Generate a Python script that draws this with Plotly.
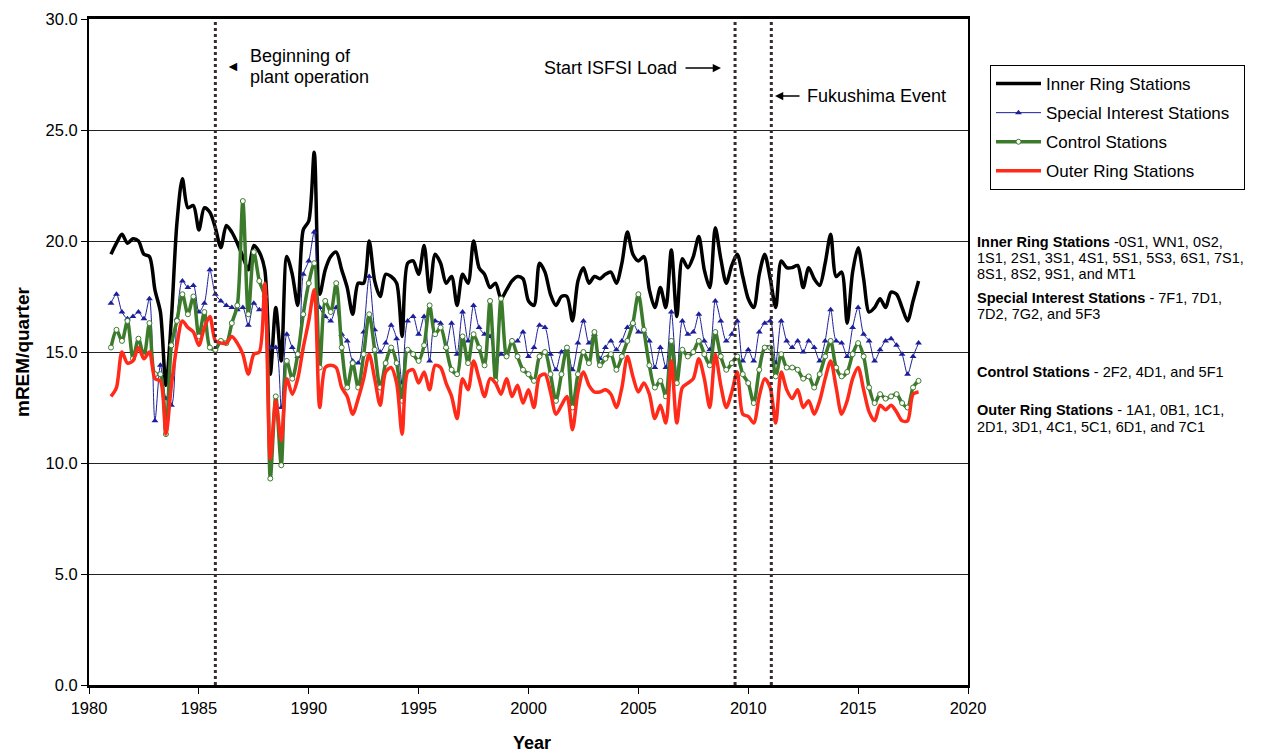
import plotly.graph_objects as go

# quarterly readings, 1981 Q1 .. 2017 Q4
quarter = [y + q / 4 for y in range(1981, 2018) for q in range(4)]

inner_ring = [
    19.4, 19.9, 20.3, 19.9, 20.1, 20.0, 19.4, 19.3, 17.8, 16.8, 13.5, 16.5, 20.8, 22.8, 21.5, 21.6, 20.5, 21.5, 21.3, 20.6,
    19.7, 20.7, 20.4, 19.9, 19.3, 18.7, 19.8, 19.5, 18.7, 14.0, 17.0, 14.6, 19.3, 18.5, 17.1, 20.5, 20.9, 24.0, 17.6, 18.7,
    19.3, 19.5, 18.7, 17.9, 16.7, 18.1, 18.1, 20.0, 18.2, 17.5, 18.5, 18.4, 18.1, 15.7, 19.0, 19.1, 18.5, 19.8, 17.7, 19.4,
    19.0, 18.1, 18.4, 17.1, 18.5, 18.1, 20.0, 18.8, 18.5, 17.9, 18.1, 17.4, 17.8, 18.2, 18.4, 18.3, 17.3, 17.1, 19.0, 18.6,
    17.6, 17.1, 17.5, 17.5, 16.4, 18.2, 18.8, 18.1, 18.4, 18.3, 18.5, 18.6, 18.1, 19.0, 20.4, 19.4, 19.1, 19.3, 17.8, 17.0,
    17.9, 17.0, 19.6, 16.6, 19.2, 18.8, 19.3, 20.2, 18.7, 17.9, 20.6, 19.2, 18.1, 18.9, 19.4, 18.4, 17.4, 17.0, 18.5, 19.4,
    18.3, 17.0, 19.1, 18.8, 18.8, 18.9, 17.9, 18.8, 18.3, 18.0, 19.0, 20.3, 18.4, 18.6, 16.3, 18.6, 19.7, 18.3, 16.8, 17.0,
    17.4, 17.0, 17.7, 17.6, 17.0, 16.4, 17.3, 18.2,
]
special_interest = [
    17.2, 17.6, 16.8, 16.5, 16.6, 16.8, 16.5, 17.4, 11.9, 14.4, 12.9, 12.6, 16.5, 18.2, 17.9, 18.0, 16.8, 17.2, 18.7, 17.6,
    17.3, 17.1, 17.0, 16.9, 17.0, 16.2, 17.2, 16.9, 17.0, 15.2, 15.2, 12.5, 15.8, 15.2, 14.8, 18.5, 19.1, 20.4, 17.0, 16.6,
    16.4, 17.0, 15.8, 15.5, 14.6, 14.5, 15.9, 18.4, 16.0, 15.0, 15.4, 16.2, 15.6, 13.6, 16.4, 16.6, 15.8, 16.6, 14.6, 16.4,
    16.3, 15.2, 16.3, 14.9, 16.8, 15.5, 17.1, 16.1, 15.8, 15.7, 14.6, 14.9, 14.9, 15.4, 15.5, 15.9, 14.8, 15.2, 16.2, 16.1,
    14.9, 14.2, 15.0, 15.1, 14.2, 15.4, 16.4, 15.4, 15.8, 14.7, 15.2, 15.5, 15.1, 15.5, 16.1, 16.3, 15.9, 15.9, 15.5, 14.3,
    15.2, 14.3, 16.8, 14.0, 16.4, 15.8, 15.9, 16.7, 15.5, 15.1, 17.3, 16.4, 15.5, 15.8, 16.4, 14.6, 15.1, 14.6, 15.9, 16.3,
    16.4, 14.5, 16.4, 15.5, 15.2, 15.5, 15.0, 15.5, 15.2, 14.6, 15.5, 16.9, 15.5, 15.4, 14.8, 16.1, 17.0, 15.8, 15.5, 14.6,
    15.1, 15.5, 15.6, 15.3, 14.9, 14.0, 14.8, 15.4,
]
control = [
    15.2, 16.0, 15.5, 16.4, 14.7, 15.6, 14.8, 16.3, 14.0, 14.0, 11.3, 15.3, 16.4, 17.6, 16.7, 17.5, 15.7, 16.8, 15.2, 15.1,
    15.5, 15.4, 16.3, 17.1, 21.8, 16.7, 19.5, 18.2, 17.5, 9.3, 13.0, 9.9, 14.6, 13.8, 14.9, 16.7, 18.1, 19.0, 14.3, 17.3,
    16.8, 18.1, 15.2, 13.4, 14.5, 13.4, 14.9, 16.7, 15.1, 13.4, 14.5, 15.2, 14.5, 12.8, 15.1, 14.9, 14.6, 15.3, 17.1, 15.8,
    16.1, 15.2, 14.2, 14.0, 15.7, 14.5, 15.8, 15.2, 14.4, 17.3, 13.7, 17.4, 14.8, 15.5, 14.8, 14.2, 14.0, 13.7, 14.8, 15.0,
    14.0, 12.8, 14.0, 15.2, 12.5, 14.0, 15.0, 14.5, 15.9, 14.4, 14.7, 14.9, 14.2, 14.8, 15.5, 16.3, 17.6, 16.0, 14.4, 13.4,
    13.7, 13.0, 15.5, 13.6, 15.1, 14.8, 15.0, 15.5, 14.9, 14.4, 15.9, 14.8, 14.2, 14.5, 14.8, 14.0, 13.6, 12.7, 14.2, 15.2,
    15.2, 13.9, 14.9, 14.3, 14.3, 14.2, 13.8, 13.9, 13.4, 14.0, 14.8, 15.5, 14.3, 13.9, 14.1, 14.9, 15.4, 14.8, 13.4, 12.7,
    13.1, 12.9, 13.0, 13.1, 12.7, 12.5, 13.4, 13.7,
]
outer_ring = [
    13.0, 13.4, 15.0, 14.5, 14.6, 15.2, 14.7, 15.0, 13.8, 13.7, 11.3, 13.5, 15.3, 16.4, 16.1, 15.9, 15.3, 16.1, 16.6, 15.5,
    15.4, 15.4, 15.7, 15.4, 14.9, 14.0, 14.9, 15.0, 18.1, 10.2, 12.8, 11.0, 13.8, 13.1, 13.8, 15.2, 16.4, 17.8, 12.5, 14.3,
    14.4, 14.3, 13.4, 13.0, 12.2, 12.9, 13.8, 14.9, 13.8, 12.6, 14.1, 14.3, 13.6, 11.3, 14.1, 14.2, 13.6, 14.1, 13.3, 14.4,
    14.3, 13.6, 13.0, 12.0, 13.8, 13.3, 14.6, 13.8, 13.0, 13.8, 13.6, 13.1, 13.8, 13.0, 13.5, 12.7, 13.3, 12.5, 13.9, 14.0,
    13.2, 12.2, 12.6, 13.0, 11.5, 13.2, 14.1, 13.5, 13.2, 13.2, 13.3, 13.1, 12.5, 13.4, 14.8, 13.9, 13.2, 13.6, 13.1, 12.0,
    12.6, 11.8, 14.6, 11.8, 13.4, 13.6, 13.8, 14.7, 13.8, 12.5, 14.9, 13.5, 12.5, 13.2, 14.1, 12.2, 12.1, 11.8, 13.0, 13.8,
    13.4, 11.8, 14.1, 13.3, 12.9, 13.3, 12.5, 12.8, 12.2, 12.8, 13.8, 14.6, 13.4, 12.2, 12.8, 13.8, 14.3, 13.3, 12.3, 11.9,
    12.6, 12.4, 12.6, 12.3, 11.9, 11.9, 13.1, 13.2,
]

event_years = [1985.75, 2009.4, 2011.05]

FONT = "Liberation Sans, Arial"

# plot area as seen on screen in the reference; the page body adds an 8px margin
OFF = 8
L, R, T, B = 89, 968, 19, 685


def px(x):
    return (x - L) / (R - L)


def py(y):
    return (B - y) / (B - T)


def label(fig, text, x, y, size, xanchor="left", angle=0):
    fig.add_annotation(x=px(x), y=py(y), xref="paper", yref="paper", showarrow=False,
                       xanchor=xanchor, yanchor="middle", textangle=angle,
                       text=text, font=dict(size=size, color="black", family=FONT))


def arrow(fig, x_tail, x_head, y):
    fig.add_annotation(x=px(x_head), y=py(y), xref="paper", yref="paper", text="",
                       showarrow=True, ax=x_tail - x_head, ay=0, arrowhead=2, arrowsize=1.1,
                       arrowwidth=1.5, arrowcolor="black", standoff=0, startstandoff=0)


fig = go.Figure()

fig.add_trace(go.Scatter(x=quarter, y=inner_ring, name="Inner Ring Stations", mode="lines", legendgroup="a",
                         line=dict(color="black", width=3.5, shape="spline", smoothing=0.8)))
fig.add_trace(go.Scatter(x=quarter, y=special_interest, name="Special Interest Stations\u00a0\u00a0",
                         mode="lines+markers", legendgroup="b",
                         line=dict(color="#1c1f9a", width=1, shape="spline", smoothing=0.8),
                         marker=dict(symbol="triangle-up", size=6, color="#1c1f9a")))
fig.add_trace(go.Scatter(x=quarter, y=control, name="Control Stations", mode="lines+markers", legendgroup="c",
                         line=dict(color="#3c7a2c", width=3.5, shape="spline", smoothing=0.8),
                         marker=dict(symbol="circle", size=5, color="white", line=dict(color="#3c7a2c", width=1))))
fig.add_trace(go.Scatter(x=quarter, y=outer_ring, name="Outer Ring Stations", mode="lines", legendgroup="d",
                         line=dict(color="#ff2a1a", width=3.5, shape="spline", smoothing=0.8)))

for yr in event_years:
    fig.add_shape(type="line", xref="x", yref="y", x0=yr, x1=yr, y0=0, y1=30,
                  line=dict(color="#3a2a30", width=3, dash="dot"))

# event notes
label(fig, "◄", 233, 66, 14, xanchor="center")
label(fig, "Beginning of", 248, 56, 18)
label(fig, "plant operation", 248, 77, 18)
label(fig, "Start ISFSI Load", 679, 68, 18, xanchor="right")
arrow(fig, 684, 721, 68)
label(fig, "Fukushima Event", 805, 96, 18)
arrow(fig, 801, 775, 96)

# station lists
notes = [
    ("<b>Inner Ring Stations</b> -0S1, WN1, 0S2,", 242),
    ("1S1, 2S1, 3S1, 4S1, 5S1, 5S3, 6S1, 7S1,", 258),
    ("8S1, 8S2, 9S1, and MT1", 274),
    ("<b>Special Interest Stations</b> - 7F1, 7D1,", 298),
    ("7D2, 7G2, and 5F3", 314),
    ("<b>Control Stations</b> - 2F2, 4D1, and 5F1", 372),
    ("<b>Outer Ring Stations</b> - 1A1, 0B1, 1C1,", 410),
    ("2D1, 3D1, 4C1, 5C1, 6D1, and 7C1", 427),
]
for txt, yc in notes:
    label(fig, txt, 975, yc, 14.5)

# axis titles
label(fig, "<b>mREM/quarter</b>", 22, 352, 19, xanchor="center", angle=-90)
label(fig, "<b>Year</b>", 532, 743, 18, xanchor="center")

fig.update_layout(
    width=1269 - OFF, height=754 - OFF,
    margin=dict(l=L - OFF, r=1269 - R, t=T - OFF, b=754 - B),
    paper_bgcolor="white", plot_bgcolor="white",
    font=dict(family=FONT, size=16.5, color="black"),
    showlegend=True,
    legend=dict(x=px(990), y=py(65), xanchor="left", yanchor="top",
                bgcolor="white", bordercolor="black", borderwidth=1,
                font=dict(size=17, family=FONT), itemwidth=45, tracegroupgap=4),
)
fig.update_xaxes(range=[1980, 2020], dtick=5, tick0=1980, showgrid=False, zeroline=False, automargin=False,
                 showline=True, linecolor="black", linewidth=2.5, mirror=True,
                 ticks="outside", ticklen=6, tickcolor="black")
fig.update_yaxes(range=[0, 30], dtick=5, tickformat=".1f", showgrid=True, gridcolor="#222222", gridwidth=1,
                 zeroline=False, automargin=False, showline=True, linecolor="black", linewidth=2, mirror=True,
                 ticks="outside", ticklen=6, tickcolor="black")

fig.write_html("out.html")
